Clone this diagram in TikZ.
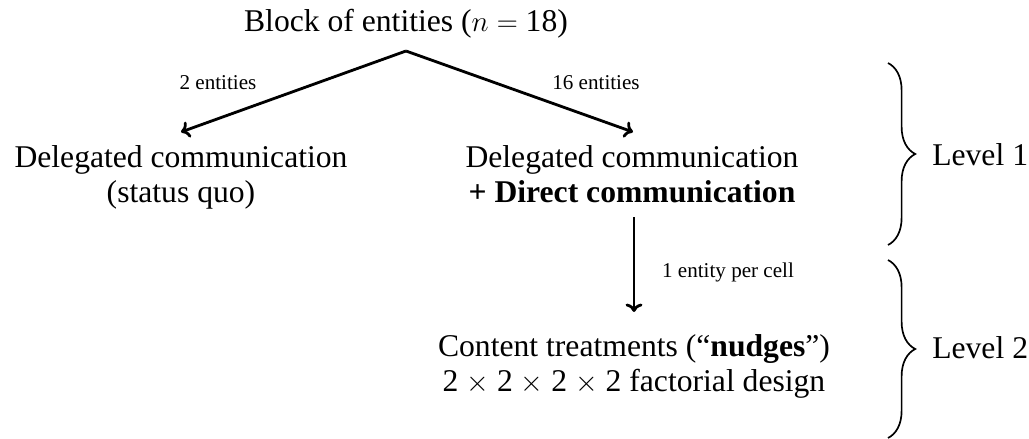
\documentclass[tikz,border=0pt]{standalone}
\usepackage{fontspec}
\setmainfont{Liberation Serif}
\usetikzlibrary{arrows.meta,decorations.pathreplacing}
\tikzset{
  main/.style={font=\fontsize{22.5}{24.2}\selectfont, inner sep=0pt, align=center},
  small/.style={font=\fontsize{15}{18}\selectfont, inner sep=0pt},
  arr/.style={line width=2pt, -{To[length=6pt,width=12pt]}},
  bracestyle/.style={line width=1.2pt, decorate, decoration={brace, amplitude=0.68cm, aspect=0.5}}
}
\begin{document}
\begin{tikzpicture}[x=0.025cm,y=-0.025cm]
\useasboundingbox (0,0) rectangle (1029,439);
\node[main, anchor=base] (top) at (406,32) {Block of entities ($n =$ 18)};
\node[main, anchor=base] (left) at (181,202) {Delegated communication\\(status quo)};
\node[main, anchor=base] (right) at (632,202) {Delegated communication\\\textbf{+ Direct communication}};
\node[main, anchor=base] (content) at (634,391) {Content treatments (``\textbf{nudges}'')\\2 $\times$ 2 $\times$ 2 $\times$ 2 factorial design};
\node[small, anchor=base] (l2) at (218,90) {2 entities};
\node[small, anchor=base] (l16) at (596,90) {16 entities};
\node[small, anchor=base] (lcell) at (728,277) {1 entity per cell};
\coordinate (apex) at (406,51);
\coordinate (lend) at (181,132);
\coordinate (rend) at (633,132);
\coordinate (vstart) at (634,217);
\coordinate (vend) at (634,312);
\draw[arr] (apex) -- (lend);
\draw[arr] (apex) -- (rend);
\draw[arr] (vstart) -- (vend);
\coordinate (b1t) at (888,63);
\coordinate (b1b) at (888,245);
\coordinate (b2t) at (888,260);
\coordinate (b2b) at (888,438);
\draw[bracestyle] (b1t) -- (b1b);
\draw[bracestyle] (b2t) -- (b2b);
\node[main, anchor=base west] (lev1) at (932,165) {Level 1};
\node[main, anchor=base west] (lev2) at (932,358) {Level 2};
\end{tikzpicture}
\end{document}
